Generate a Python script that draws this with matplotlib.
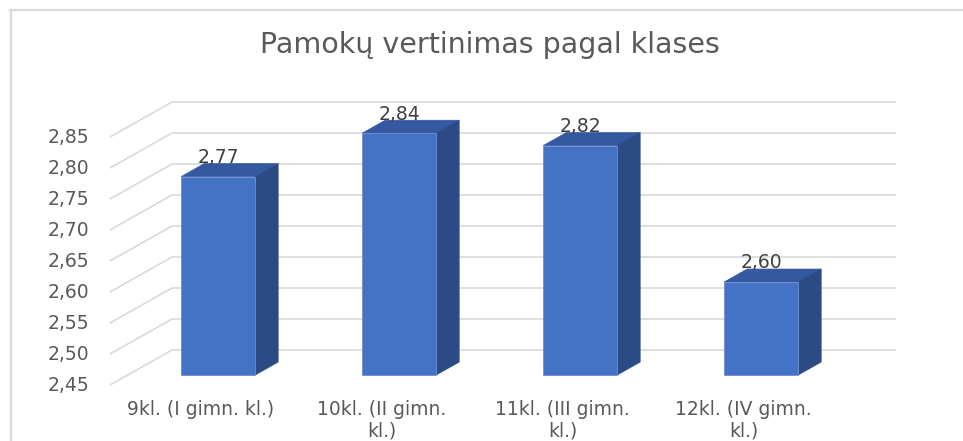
import matplotlib
matplotlib.use("Agg")
import matplotlib.pyplot as plt
from matplotlib.patches import Polygon
from matplotlib.lines import Line2D
import numpy as np

# ---- data ----------------------------------------------------------------
categories = ['9kl. (I gimn. kl.)', '10kl. (II gimn.\nkl.)',
              '11kl. (III gimn.\nkl.)', '12kl. (IV gimn.\nkl.)']
values = [2.77, 2.84, 2.82, 2.60]
value_labels = ['2,77', '2,84', '2,82', '2,60']
y_ticks = [2.45, 2.50, 2.55, 2.60, 2.65, 2.70, 2.75, 2.80, 2.85]
y_tick_labels = ['2,45', '2,50', '2,55', '2,60', '2,65', '2,70', '2,75', '2,80', '2,85']
title = 'Pamokų vertinimas pagal klases'

# ---- 3D-ish geometry (oblique projection) --------------------------------
W, H = 963, 441
cat_px = 181.0        # pixels per category on the front plane
val_px = 620.0        # pixels per value unit
x0_px, y0_px = 110.0, 385.0   # front-left corner of floor (value 2.45)
DX = 62.0 / cat_px    # full depth, x shift (data units)
DY = 35.0 / val_px    # full depth, y shift (data units)
d1, d2 = 0.286, 0.656 # bar front / back depth fractions
bw = 74.0 / cat_px    # bar width
base = y_ticks[0]

c_front, c_side, c_top = '#4472C4', '#2C4A84', '#3459A0'
grid_c, text_c = '#D9D9D9', '#595959'

fig = plt.figure(figsize=(W / 100, H / 100), dpi=100)
ax = fig.add_axes([0, 0, 1, 1])
ax.set_xlim(-0.5 - x0_px / cat_px, -0.5 + (W - x0_px) / cat_px)
ax.set_ylim(base - (H - y0_px) / val_px, base + y0_px / val_px)
ax.axis('off')


def P(x, v, d):
    return (x + d * DX, v + d * DY)


# back wall + side floor gridlines
xl, xr = -0.5, len(categories) - 0.5
for v in y_ticks:
    pts = [P(xl, v, 0), P(xl, v, 1), P(xr, v, 1)]
    ax.plot([p[0] for p in pts], [p[1] for p in pts], color=grid_c, lw=1.2,
            solid_capstyle='butt', zorder=1)

for t, lab in zip(y_ticks, y_tick_labels):
    ax.text(xl - 21 / cat_px, t, lab, ha='right', va='center',
            fontsize=13.5, color=text_c)

# bars
xs = np.arange(len(categories))
ax.bar(xs + d1 * DX, np.array(values) - base, bottom=base + d1 * DY,
       width=bw, color=c_front, edgecolor='#6D8FD3', linewidth=0.6, zorder=3)
for x, v, lab in zip(xs, values, value_labels):
    l, r = x - bw / 2, x + bw / 2
    top = [P(l, v, d1), P(r, v, d1), P(r, v, d2), P(l, v, d2)]
    side = [P(r, v, d1), P(r, base, d1), P(r, base, d2), P(r, v, d2)]
    ax.add_patch(Polygon(top, closed=True, fc=c_top, ec=c_top, lw=0.5, zorder=2))
    ax.add_patch(Polygon(side, closed=True, fc=c_side, ec=c_side, lw=0.5, zorder=2))
    tx, ty = P(x, v, d1)
    ax.text(tx, ty + 19 / val_px, lab, ha='center', va='center',
            fontsize=13.5, color='#404040', zorder=4)

for x, cat in zip(xs, categories):
    ax.text(x, base - 15 / val_px, cat, ha='center', va='top',
            fontsize=13.5, color=text_c, linespacing=1.15)

fig.text(490 / W, 1 - 45 / H, title, ha='center', va='center',
         fontsize=20.5, color=text_c)

# chart frame (top and left edges visible)
fig.add_artist(Line2D([10 / W, 1], [1 - 10 / H, 1 - 10 / H],
                      transform=fig.transFigure, color=grid_c, lw=1.6))
fig.add_artist(Line2D([11 / W, 11 / W], [0, 1 - 10 / H],
                      transform=fig.transFigure, color=grid_c, lw=1.6))

fig.savefig('out.png', dpi=100)
